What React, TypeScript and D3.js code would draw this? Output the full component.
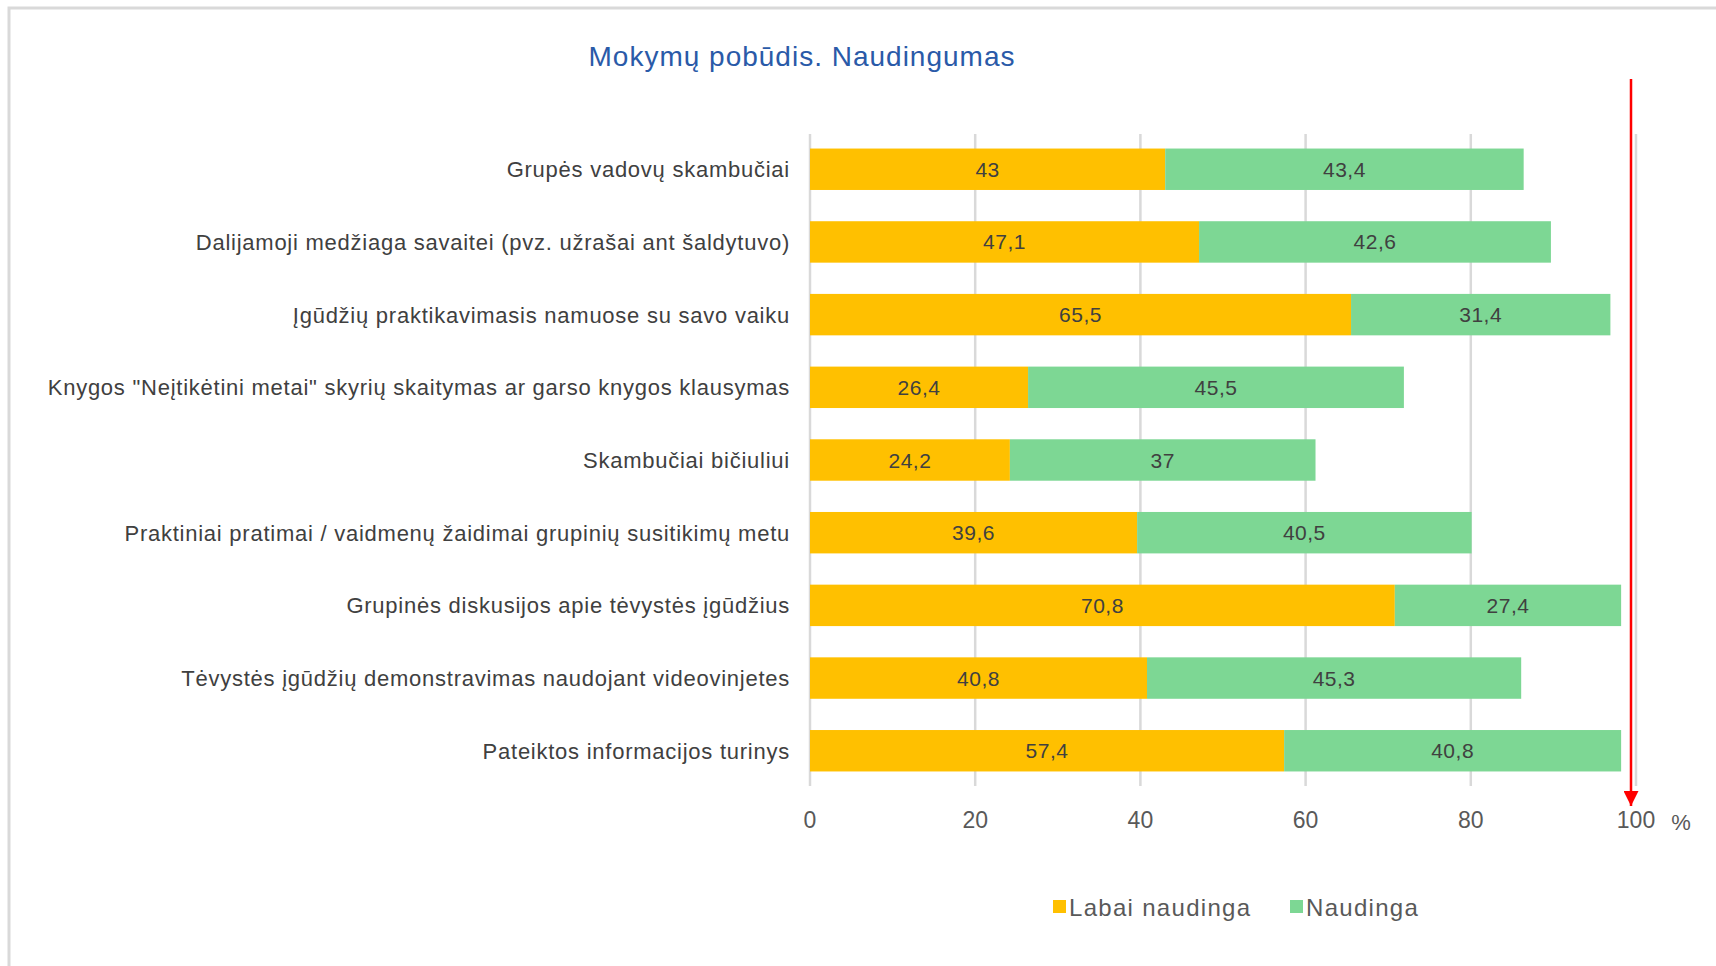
import React from 'react';
import * as d3 from 'd3';

const categories = [
    'Grupės vadovų skambučiai',
    'Dalijamoji medžiaga savaitei (pvz. užrašai ant šaldytuvo)',
    'Įgūdžių praktikavimasis namuose su savo vaiku',
    'Knygos "Neįtikėtini metai" skyrių skaitymas ar garso knygos klausymas',
    'Skambučiai bičiuliui',
    'Praktiniai pratimai / vaidmenų žaidimai grupinių susitikimų metu',
    'Grupinės diskusijos apie tėvystės įgūdžius',
    'Tėvystės įgūdžių demonstravimas naudojant videovinjetes',
    'Pateiktos informacijos turinys',
];
const labaiNaudinga = [43, 47.1, 65.5, 26.4, 24.2, 39.6, 70.8, 40.8, 57.4];
const naudinga = [43.4, 42.6, 31.4, 45.5, 37, 40.5, 27.4, 45.3, 40.8];
const seriesNames = ['Labai naudinga', 'Naudinga'];
const xTicks = [0, 20, 40, 60, 80, 100];

const COLORS = ['#FFC000', '#7DD794'];
const FONT = '"Liberation Sans", Arial, sans-serif';

const App = () => {
    const width = 1716;
    const height = 966;
    const left = 810;
    const right = 1636;
    const top = 134;
    const bottom = 786;

    const x = d3.scaleLinear().domain([0, 100]).range([left, right]);
    const y = d3.scaleBand<string>().domain(categories).range([top, bottom]).paddingInner(0.43).paddingOuter(0.2);

    const rows = categories.map((c, i) => ({ c, a: labaiNaudinga[i], b: naudinga[i] }));
    const fmt = (v: number) => String(v).replace('.', ',');

    return (
        <svg width={width} height={height} style={{ position: 'absolute', left: 0, top: 0, background: '#fff' }}>
            <defs>
                <marker id="arr" viewBox="0 0 10 10" refX="10" refY="5" markerWidth="6" markerHeight="6" orient="auto">
                    <path d="M0,0 L10,5 L0,10 z" fill="#FF0000" />
                </marker>
            </defs>
            {/* frame */}
            <rect x={9} y={8} width={1760} height={1000} fill="none" stroke="#D9D9D9" strokeWidth={3} />

            <text x={802} y={66} textAnchor="middle" fontFamily={FONT} fontSize={28} letterSpacing={1} fill="#2A5AA8">
                Mokymų pobūdis. Naudingumas
            </text>

            {/* gridlines */}
            {xTicks.map((t) => (
                <line key={t} x1={x(t)} x2={x(t)} y1={top} y2={bottom} stroke="#D9D9D9" strokeWidth={2.5} />
            ))}

            {/* bars */}
            {rows.map((r) => (
                <g key={r.c}>
                    <rect x={x(0)} y={y(r.c)} width={x(r.a) - x(0)} height={y.bandwidth()} fill={COLORS[0]} />
                    <rect x={x(r.a)} y={y(r.c)} width={x(r.a + r.b) - x(r.a)} height={y.bandwidth()} fill={COLORS[1]} />
                    <text x={(x(0) + x(r.a)) / 2} y={y(r.c)! + y.bandwidth() / 2} dy="0.36em" textAnchor="middle"
                        fontFamily={FONT} fontSize={21} letterSpacing={0.5} fill="#404040">{fmt(r.a)}</text>
                    <text x={(x(r.a) + x(r.a + r.b)) / 2} y={y(r.c)! + y.bandwidth() / 2} dy="0.36em" textAnchor="middle"
                        fontFamily={FONT} fontSize={21} letterSpacing={0.5} fill="#404040">{fmt(r.b)}</text>
                    <text x={790} y={y(r.c)! + y.bandwidth() / 2} dy="0.36em" textAnchor="end"
                        fontFamily={FONT} fontSize={22} letterSpacing={0.75} fill="#404040">{r.c}</text>
                </g>
            ))}

            {/* x tick labels */}
            {xTicks.map((t) => (
                <text key={t} x={x(t)} y={820} dy="0.36em" textAnchor="middle" fontFamily={FONT} fontSize={23} fill="#595959">{t}</text>
            ))}
            <text x={1681} y={822} dy="0.36em" textAnchor="middle" fontFamily={FONT} fontSize={22} fill="#595959">%</text>

            {/* red arrow at 100 */}
            <line x1={x(100) - 5} x2={x(100) - 5} y1={79} y2={806} stroke="#FF0000" strokeWidth={2.5} markerEnd="url(#arr)" />

            {/* legend */}
            {seriesNames.map((s, i) => {
                const lx = [1053, 1290][i];
                return (
                    <g key={s}>
                        <rect x={lx} y={900} width={13} height={13} fill={COLORS[i]} />
                        <text x={lx + 16} y={907} dy="0.36em" fontFamily={FONT} fontSize={24} letterSpacing={1.3} fill="#595959">{s}</text>
                    </g>
                );
            })}
        </svg>
    );
};

export default App;
